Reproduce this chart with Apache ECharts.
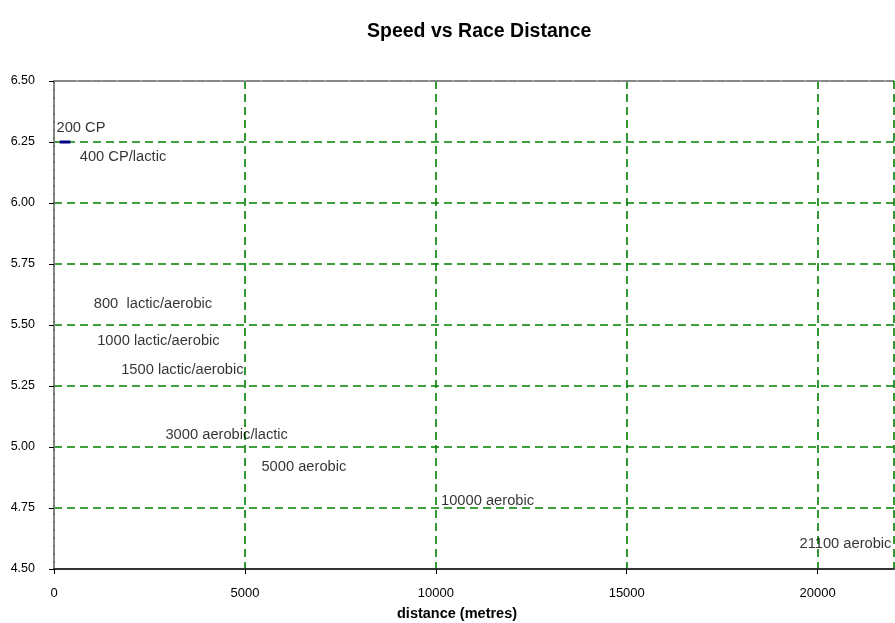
<!DOCTYPE html>
<html>
<head>
<meta charset="utf-8">
<script src="https://cdn.jsdelivr.net/npm/echarts@6/dist/echarts.min.js"></script>
<style>html,body{margin:0;padding:0;background:#fff}#chart{width:895px;height:623px}</style>
</head>
<body>
<div id="chart"></div>
<script>
// Race labels, placed where they sit in the reference (distance, speed)
const labelTexts = ["200 CP", "400 CP/lactic", "800  lactic/aerobic", "1000 lactic/aerobic", "1500 lactic/aerobic", "3000 aerobic/lactic", "5000 aerobic", "10000 aerobic", "21100 aerobic"];
const labelX = [65, 675, 1042, 1131, 1759, 2919, 5432, 10136, 19524];
const labelY = [6.307, 6.189, 5.587, 5.434, 5.316, 5.048, 4.919, 4.779, 4.601];
// Short speed segment near 200-400 m
const segX = [150, 430];
const segY = [6.25, 6.25];
const xTicks = [0, 5000, 10000, 15000, 20000];
const yTicks = [4.5, 4.75, 5.0, 5.25, 5.5, 5.75, 6.0, 6.25, 6.5];

const font = 'Arial, "Liberation Sans", sans-serif';
const chart = echarts.init(document.getElementById('chart'), null, {renderer: 'canvas'});
const gridLine = {show: true, lineStyle: {color: '#008000', type: [8, 5], width: 1.6, opacity: 1}};
const option = {
  backgroundColor: '#fff',
  animation: false,
  title: [{
    text: 'Speed vs Race Distance', left: 367, top: 22, padding: 0,
    textStyle: {fontFamily: font, fontSize: 19.5, fontWeight: 'bold', color: '#000'}
  }, {
    text: 'distance (metres)', left: 397, top: 606, padding: 0,
    textStyle: {fontFamily: font, fontSize: 14.5, fontWeight: 'bold', color: '#000'}
  }],
  grid: {left: 54, right: 1, top: 81, bottom: 54},
  xAxis: [{
    type: 'value', min: 0, max: 22000, interval: 5000,
    axisLine: {onZero: false, lineStyle: {color: '#333', width: 2}},
    axisTick: {show: true, length: 5, lineStyle: {color: '#000'}},
    axisLabel: {fontFamily: font, fontSize: 13, color: '#000', margin: 18, showMaxLabel: false,
      formatter: v => xTicks.indexOf(v) >= 0 ? String(v) : ''},
    splitLine: gridLine
  }, {
    type: 'value', position: 'top', min: 0, max: 22000,
    axisLine: {show: true, lineStyle: {color: '#888', type: [6, 2], width: 2}},
    axisTick: {show: false}, axisLabel: {show: false}, splitLine: {show: false}
  }],
  yAxis: [{
    type: 'value', min: 4.5, max: 6.5, interval: 0.25,
    axisLine: {show: true, onZero: false, lineStyle: {color: '#000', width: 1.5}},
    axisTick: {show: true, length: 5, lineStyle: {color: '#000'}},
    axisLabel: {fontFamily: font, fontSize: 12.5, color: '#000', margin: 19,
      formatter: v => v.toFixed(2)},
    splitLine: gridLine
  }, {
    type: 'value', position: 'right', min: 4.5, max: 6.5,
    axisLine: {show: true, lineStyle: {color: '#888', type: [6, 2], width: 2}},
    axisTick: {show: false}, axisLabel: {show: false}, splitLine: {show: false}
  }],
  series: [{
    type: 'line', data: segX.map((x, i) => [x, segY[i]]), showSymbol: false,
    lineStyle: {color: '#000080', width: 3}, z: 5
  }, {
    type: 'scatter', symbolSize: 0,
    data: labelX.map((x, i) => [x, labelY[i]]),
    label: {show: true, position: 'right', distance: 0,
      formatter: p => labelTexts[p.dataIndex],
      fontFamily: font, fontSize: 14.7, color: '#000'}
  }]
};
chart.setOption(option);
</script>
</body>
</html>
